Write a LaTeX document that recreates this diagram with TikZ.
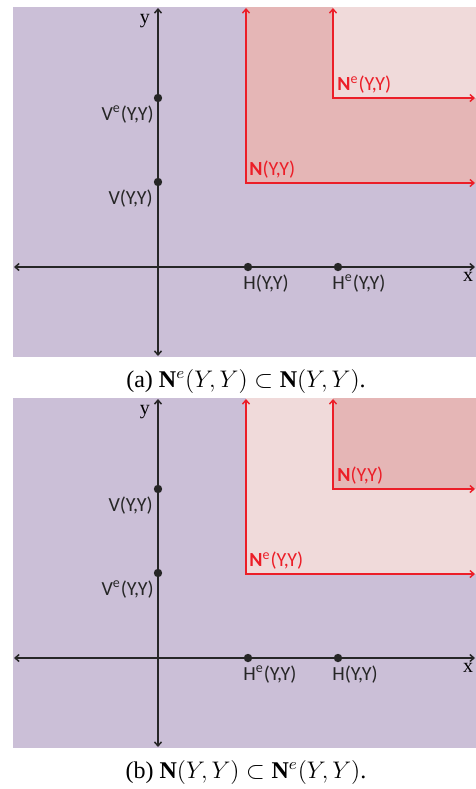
\documentclass[tikz,border=0pt]{standalone}
\usepackage{fontspec}
\setmainfont{Liberation Serif}
\newfontfamily\lblfont{Carlito}
\usetikzlibrary{arrows.meta}
\definecolor{bgviolet}{RGB}{203,191,215}
\definecolor{regdark}{RGB}{229,182,182}
\definecolor{reglight}{RGB}{240,218,218}
\definecolor{regred}{RGB}{236,30,40}
\definecolor{ptgray}{RGB}{38,38,38}
\begin{document}
\begin{tikzpicture}[
    x=0.5pt, y=-0.5pt,
    >={Straight Barb[length=2pt, width=3.5pt]},
    axisline/.style={draw=ptgray, line width=0.75pt, <->},
    regline/.style={draw=regred, line width=0.7pt, <->},
    dot/.style={circle, fill=ptgray, inner sep=0pt, minimum size=4.2pt},
    ptlabel/.style={font=\lblfont\fontsize{10}{12}\selectfont, text=ptgray, inner sep=1pt},
    reglabel/.style={font=\lblfont\fontsize{10}{12}\selectfont, text=regred, inner sep=1pt},
    axlabel/.style={font=\fontsize{10}{12}\selectfont, inner sep=0pt},
    caption/.style={font=\fontsize{12}{14}\selectfont, inner sep=0pt}
]
\useasboundingbox (0,0) rectangle (476,789);

% (a) N^e inside N
\begin{scope}
\fill[bgviolet] (13,7) rectangle (476,357);
\coordinate (Na) at (246,183);
\coordinate (Nea) at (333,98);
\fill[regdark] (Na) rectangle (476,7);
\fill[reglight] (Nea) rectangle (476,7);
\coordinate (Na top) at (246,8);
\coordinate (Na right) at (475,183);
\coordinate (Nea top) at (333,8);
\coordinate (Nea right) at (475,98);
\draw[regline] (Na top) -- (Na) -- (Na right);
\draw[regline] (Nea top) -- (Nea) -- (Nea right);
\node[reglabel, anchor=south west] (Na lbl) at (247,181) {\textbf{N}(Y,Y)};
\node[reglabel, anchor=south west] (Nea lbl) at (335,96) {\textbf{N}\textsuperscript{e}(Y,Y)};
\coordinate (ya top) at (158,8);
\coordinate (ya bot) at (158,356);
\coordinate (xa left) at (14,267);
\coordinate (xa right) at (475,267);
\draw[axisline] (xa left) -- (xa right);
\draw[axisline] (ya bot) -- (ya top);
\node[axlabel] (ya lbl) at (145,21) {y};
\node[axlabel] (xa lbl) at (468,277) {x};
\node[dot] (Vea) at (158,98) {};
\node[dot] (Va) at (158,182) {};
\node[dot] (Ha) at (248,267) {};
\node[dot] (Hea) at (338,267) {};
\node[ptlabel, anchor=north east] (Vea lbl) at (156,103) {V\textsuperscript{e}(Y,Y)};
\node[ptlabel, anchor=north east] (Va lbl) at (155,187) {V(Y,Y)};
\node[ptlabel, anchor=north west] (Ha lbl) at (241,272) {H(Y,Y)};
\node[ptlabel, anchor=north west] (Hea lbl) at (330,272) {H\textsuperscript{e}(Y,Y)};
\node[caption] (cap a) at (246,381) {(a) $\mathbf{N}^e(Y,Y) \subset \mathbf{N}(Y,Y)$.};
\end{scope}

% (b) N inside N^e
\begin{scope}[yshift=-195.5pt]
\fill[bgviolet] (13,7) rectangle (476,357);
\coordinate (Neb) at (246,183);
\coordinate (Nb) at (333,98);
\fill[reglight] (Neb) rectangle (476,7);
\fill[regdark] (Nb) rectangle (476,7);
\coordinate (Neb top) at (246,8);
\coordinate (Neb right) at (475,183);
\coordinate (Nb top) at (333,8);
\coordinate (Nb right) at (475,98);
\draw[regline] (Neb top) -- (Neb) -- (Neb right);
\draw[regline] (Nb top) -- (Nb) -- (Nb right);
\node[reglabel, anchor=south west] (Neb lbl) at (247,181) {\textbf{N}\textsuperscript{e}(Y,Y)};
\node[reglabel, anchor=south west] (Nb lbl) at (335,96) {\textbf{N}(Y,Y)};
\coordinate (yb top) at (158,8);
\coordinate (yb bot) at (158,356);
\coordinate (xb left) at (14,267);
\coordinate (xb right) at (475,267);
\draw[axisline] (xb left) -- (xb right);
\draw[axisline] (yb bot) -- (yb top);
\node[axlabel] (yb lbl) at (145,21) {y};
\node[axlabel] (xb lbl) at (468,277) {x};
\node[dot] (Vb) at (158,98) {};
\node[dot] (Veb) at (158,182) {};
\node[dot] (Heb) at (248,267) {};
\node[dot] (Hb) at (338,267) {};
\node[ptlabel, anchor=north east] (Vb lbl) at (155,103) {V(Y,Y)};
\node[ptlabel, anchor=north east] (Veb lbl) at (156,187) {V\textsuperscript{e}(Y,Y)};
\node[ptlabel, anchor=north west] (Heb lbl) at (241,272) {H\textsuperscript{e}(Y,Y)};
\node[ptlabel, anchor=north west] (Hb lbl) at (330,272) {H(Y,Y)};
\node[caption] (cap b) at (246,381) {(b) $\mathbf{N}(Y,Y) \subset \mathbf{N}^e(Y,Y)$.};
\end{scope}
\end{tikzpicture}
\end{document}
